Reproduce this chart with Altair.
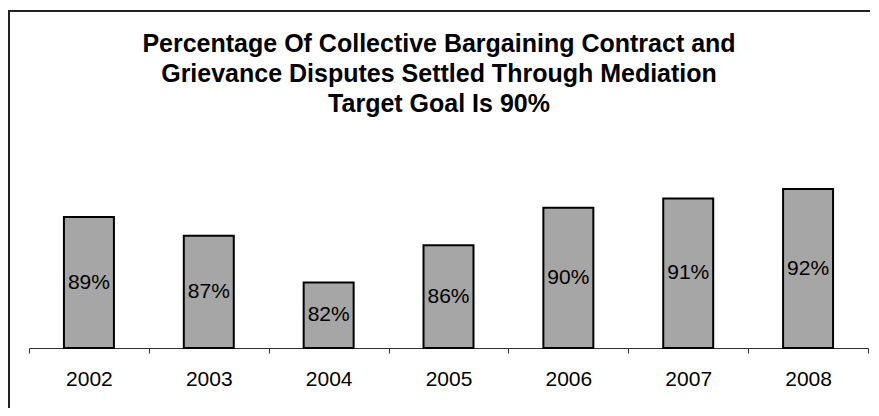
import altair as alt
import pandas as pd

years = ["2002", "2003", "2004", "2005", "2006", "2007", "2008"]
values = [89, 87, 82, 86, 90, 91, 92]
labels = ["89%", "87%", "82%", "86%", "90%", "91%", "92%"]
title_lines = [
    "Percentage Of Collective Bargaining Contract and",
    "Grievance Disputes Settled Through Mediation",
    "Target Goal Is 90%",
]
y_min, y_max = 75, 95

df = pd.DataFrame({"year": years, "value": values, "label": labels})
df["base"] = [y_min] * len(values)
df["mid"] = [(y_min + v) / 2 for v in values]

FONT = "Liberation Sans"

x_enc = alt.X(
    "year:N",
    sort=years,
    scale=alt.Scale(paddingInner=0, paddingOuter=0),
    axis=alt.Axis(
        title=None,
        labelAngle=0,
        labelFont=FONT,
        labelFontSize=21,
        labelColor="#000000",
        labelPadding=15,
        tickBand="extent",
        tickSize=5,
        tickColor="#333333",
        domainColor="#333333",
        domainWidth=1,
        tickWidth=1,
    ),
)
y_scale = alt.Scale(domain=[y_min, y_max], zero=False, nice=False)

base = alt.Chart(df)

bars = base.mark_bar(
    width=alt.RelativeBandSize(0.417),
    color="#A6A6A6",
    stroke="#000000",
    strokeWidth=2,
).encode(
    x=x_enc,
    y=alt.Y("value:Q", scale=y_scale, axis=None),
    y2="base:Q",
)

bar_text = base.mark_text(
    font=FONT, fontSize=21, color="#000000", baseline="middle", align="center"
).encode(
    x=alt.X("year:N", sort=years),
    y=alt.Y("mid:Q", scale=y_scale),
    text="label:N",
)

one = alt.Data(values=[{}])

title = alt.Chart(one).mark_text(
    font=FONT,
    fontSize=25,
    fontWeight="bold",
    color="#000000",
    align="center",
    baseline="alphabetic",
    lineHeight=30,
).encode(
    x=alt.value(410),
    y=alt.value(-109),
    text=alt.value(title_lines),
)

top_border = alt.Chart(one).mark_rule(color="#222222", strokeWidth=2).encode(
    x=alt.value(-21), x2=alt.value(845), y=alt.value(-150)
)
left_border = alt.Chart(one).mark_rule(color="#222222", strokeWidth=2).encode(
    x=alt.value(-20), y=alt.value(-151), y2=alt.value(250)
)

chart = (
    alt.layer(bars, bar_text, title, top_border, left_border)
    .properties(
        width=839,
        height=187,
        autosize=alt.AutoSizeParams(type="none"),
        padding={"left": 21, "top": 153, "right": 2, "bottom": 60},
        view=alt.ViewBackground(stroke="transparent", strokeWidth=0),
    )
    .configure_view(stroke="transparent", strokeWidth=0)
    .configure(background="#ffffff")
)

chart.save("out.html", embed_options={"renderer": "svg", "actions": False})
